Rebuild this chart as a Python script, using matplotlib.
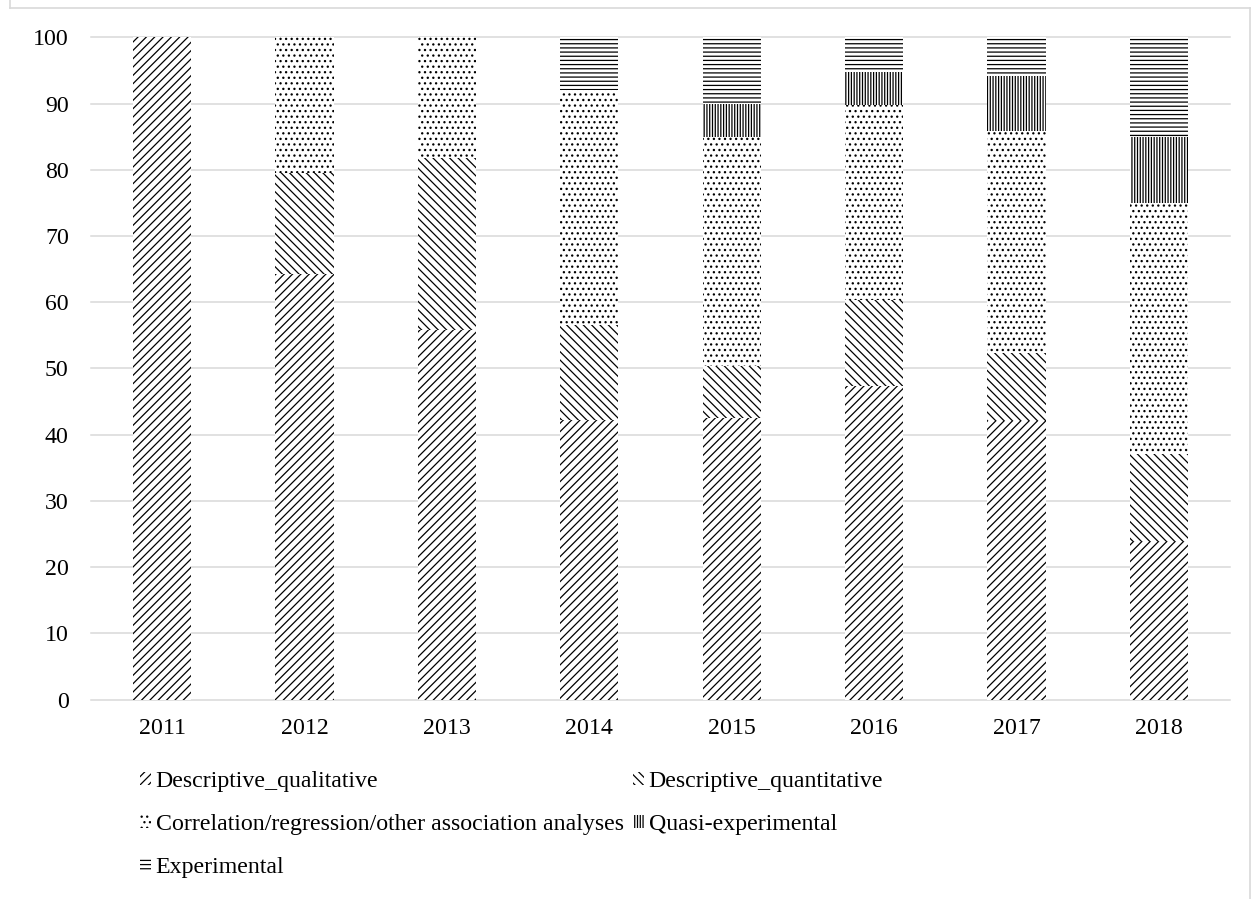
import matplotlib
matplotlib.use("Agg")
import matplotlib.pyplot as plt
from matplotlib.lines import Line2D
import numpy as np

plt.rcParams["font.family"] = ["Liberation Serif", "DejaVu Serif"]
plt.rcParams["hatch.linewidth"] = 0.9

years = ["2011", "2012", "2013", "2014", "2015", "2016", "2017", "2018"]

descriptive_qualitative = [100.0, 64.2, 55.8, 42.2, 42.5, 47.3, 42.0, 23.8]
descriptive_quantitative = [0.0, 15.3, 25.9, 14.3, 7.8, 13.0, 10.3, 13.3]
correlation_regression = [0.0, 20.5, 18.3, 35.6, 34.7, 29.5, 33.6, 37.9]
quasi_experimental = [0.0, 0.0, 0.0, 0.0, 5.0, 4.9, 8.3, 10.0]
experimental = [0.0, 0.0, 0.0, 7.9, 10.0, 5.3, 5.8, 15.0]

series_names = [
    "Descriptive_qualitative",
    "Descriptive_quantitative",
    "Correlation/regression/other association analyses",
    "Quasi-experimental",
    "Experimental",
]
series_values = [
    descriptive_qualitative,
    descriptive_quantitative,
    correlation_regression,
    quasi_experimental,
    experimental,
]
hatches = ["////", "\\\\\\\\", "...", "||||||", "----"]

y_ticks = [0, 10, 20, 30, 40, 50, 60, 70, 80, 90, 100]

fig = plt.figure(figsize=(12.57, 8.99), dpi=100)
W, H = 1257, 899
ax = fig.add_axes([91 / W, 1 - 699.5 / H, (1230 - 91) / W, (699.5 - 37.3) / H])

# light outer frame around the whole chart
frame_color = "#d9d9d9"
for xs, ys in [((10, 10), (0, 8)), ((10, 1250), (8, 8)), ((1250, 1250), (8, 899))]:
    fig.add_artist(Line2D([xs[0] / W, xs[1] / W], [1 - ys[0] / H, 1 - ys[1] / H],
                          transform=fig.transFigure, color=frame_color, lw=1.2))

x = np.arange(len(years))
bar_width = 0.41
bottom = np.zeros(len(years))
handles = []
for name, vals, hatch in zip(series_names, series_values, hatches):
    vals = np.array(vals)
    bars = ax.bar(x, vals, bar_width, bottom=bottom, color="white",
                  edgecolor="black", linewidth=0, hatch=hatch, zorder=3, label=name)
    handles.append(bars)
    bottom += vals

# horizontal gridlines
for t in y_ticks:
    ax.axhline(t, color="#d9d9d9", lw=1.1, zorder=1, clip_on=False)

ax.set_xlim(-0.5, len(years) - 0.5)
ax.set_ylim(0, 100)
ax.set_yticks(y_ticks)
ax.set_xticks(x)
ax.set_xticklabels(years)
ax.tick_params(axis="both", length=0, labelsize=17.2)
ax.tick_params(axis="y", pad=16)
ax.tick_params(axis="x", pad=13)
for s in ax.spines.values():
    s.set_visible(False)

# legend entries laid out row by row in two columns
order = [0, 2, 4, 1, 3]
leg = fig.legend([handles[i] for i in order], [series_names[i] for i in order],
                 ncol=2, loc="upper left", bbox_to_anchor=(140 / W, 1 - 771 / H),
                 frameon=False, fontsize=17.2, handlelength=0.45, handleheight=0.45,
                 handletextpad=0.2, columnspacing=0.4, labelspacing=0.93,
                 borderpad=0, borderaxespad=0)

fig.savefig("out.png", dpi=100)
